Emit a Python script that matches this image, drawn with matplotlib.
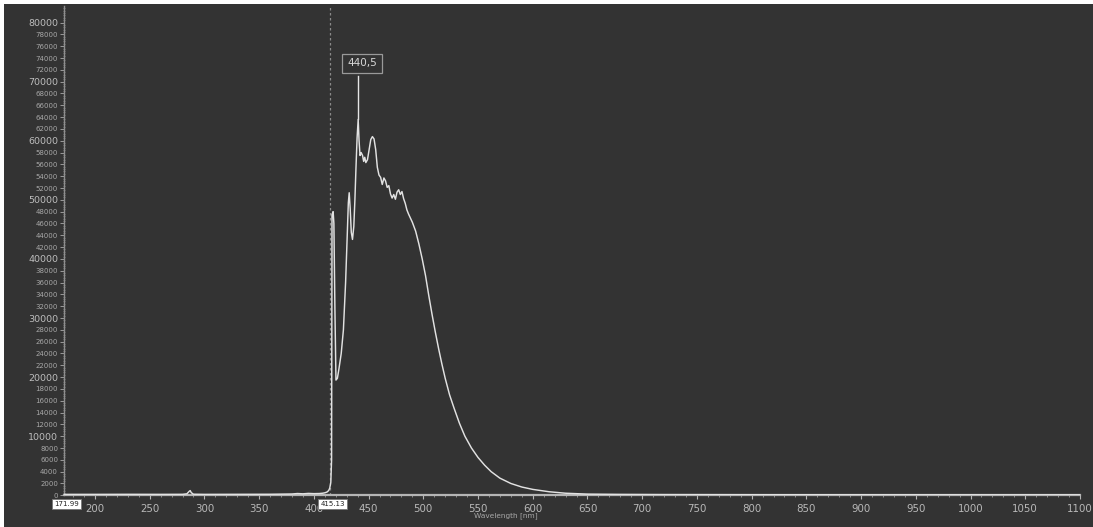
import numpy as np
import matplotlib
matplotlib.use("Agg")
import matplotlib.pyplot as plt
from matplotlib.patches import Rectangle

# Spectrum (wavelength in nm, counts)
wavelength = [172, 200, 230, 260, 280, 284, 286, 287, 288, 290, 300, 330, 360,
              380, 385, 390, 395, 400, 405, 408, 410, 412, 413.5, 414.5, 415.5,
              416.2, 416.6, 417.6, 418.3, 419.2, 420.2, 421.5, 423, 425, 427,
              429, 430.5, 431.5, 432.3, 433.2, 434.2, 435.3, 436.5, 437.5,
              438.5, 439.5, 440.5, 441.3, 442.2, 443.2, 444.5, 445.5, 446.5,
              447.5, 449, 450.5, 452, 453.5, 455, 456.5, 458, 459.5, 461,
              462.5, 464, 465.5, 467, 468.5, 470, 471.5, 473, 474.5, 476,
              477.5, 479, 480.5, 482, 483.5, 485, 486.5, 488, 490, 493, 496,
              499, 502, 505, 508, 511, 514, 517, 520, 524, 528, 533, 538, 544,
              550, 556, 562, 570, 580, 590, 600, 615, 630, 650, 680, 720, 800,
              900, 1000, 1100]
counts = [150, 150, 160, 150, 160, 250, 650, 800, 450, 180, 150, 160, 170,
          220, 300, 250, 320, 280, 300, 350, 420, 550, 800, 1200, 2200,
          6000, 47500, 48000, 46000, 32000, 19500, 19800, 21500, 24000, 28000,
          36000, 44000, 49500, 51200, 48500, 44500, 43300, 45500, 50000,
          55500, 60500, 63600, 60000, 57500, 58000, 57500, 56500, 57200,
          56300, 56800, 58500, 60200, 60700, 60300, 58500, 55500, 54200, 53800,
          52600, 53700, 53200, 52100, 52400, 51000, 50300, 50900, 50100, 51300,
          51700, 50900, 51400, 50200, 49400, 48300, 47600, 47000, 46200, 44700, 42500,
          40000, 37200, 33800, 30600, 27600, 24800, 22200, 19800, 17000, 14800, 12200, 10000, 8000,
          6400, 5100, 4000, 2900, 2000, 1400, 1000, 600, 350, 200, 150, 120, 100,
          90, 80, 80]

x_min = 171.99
x_max = 1100
cursor_x = 415.13
peak_x = 440.5
peak_y = 63600
peak_label = "440,5"

x_ticks = list(range(200, 1101, 50))
y_ticks = list(range(0, 80001, 2000))
y_labels = [str(v) for v in y_ticks]

bg = "#333333"

fig = plt.figure(figsize=(10.93, 5.27), dpi=100, facecolor="white")
# dark panel, screenshot has thin white edge top/left
fig.patches.append(Rectangle((4 / 1093, 0), 1, (527 - 4) / 527,
                             transform=fig.transFigure, facecolor=bg,
                             edgecolor="none", zorder=-5))

ax = fig.add_axes([64.3 / 1093, (527 - 495.3) / 527,
                   (1080 - 64.3) / 1093, (495.3 - 6) / 527])
ax.set_facecolor(bg)

ax.plot(wavelength, counts, color="#e2e2e2", lw=1.05, zorder=3)

# cursor line
ax.axvline(cursor_x, color="#8a8a8a", lw=0.9, ls=(0, (2, 2)), zorder=2)

# peak marker
ax.plot([peak_x, peak_x], [peak_y, 70900], color="#e6e6e6", lw=1.0, zorder=3)
ax.text(peak_x + 3.5, 73100, peak_label, ha="center", va="center",
        fontsize=7.5, color="#d8d8d8", zorder=4,
        bbox=dict(boxstyle="square,pad=0.45", facecolor=bg,
                  edgecolor="#9a9a9a", lw=0.9))

ax.set_xlim(x_min, x_max)
ax.set_ylim(0, 82800)

for s in ["top", "right"]:
    ax.spines[s].set_visible(False)
ax.spines["bottom"].set_color("#b5b5b5")
ax.spines["bottom"].set_linewidth(1.6)
ax.spines["left"].set_color("#8f8f8f")
ax.spines["left"].set_linewidth(1.0)

ax.set_xticks(x_ticks)
ax.set_xticks(np.arange(180, 1100, 10), minor=True)
ax.tick_params(axis="x", which="major", length=3, width=0.8, color="#b5b5b5",
               labelsize=7.4, labelcolor="#b8b8b8", pad=3)
ax.tick_params(axis="x", which="minor", length=1.5, width=0.6, color="#9a9a9a")

ax.set_yticks(y_ticks, y_labels)
ax.set_yticks(np.arange(0, 82800, 400), minor=True)
ax.tick_params(axis="y", which="major", length=3, width=0.7, color="#9a9a9a",
               labelcolor="#a8a8a8", labelsize=5.0, pad=1.5)
ax.tick_params(axis="y", which="minor", length=1.5, width=0.5,
               color="#8a8a8a", direction="inout")
for lab, v in zip(ax.get_yticklabels(), y_ticks):
    if v % 10000 == 0 and v > 0:
        lab.set_fontsize(6.8)
        lab.set_color("#bdbdbd")

ax.text(575, -0.041, "Wavelength [nm]", transform=ax.get_xaxis_transform(),
        ha="center", va="center", fontsize=5.3, color="#a8a8a8")

# cursor value boxes under the axis
for xv in [x_min, cursor_x]:
    ax.text(xv + 2, -0.018, f"{xv:.2f}", transform=ax.get_xaxis_transform(),
            ha="center", va="center", fontsize=5.0, color="#222222",
            zorder=5, clip_on=False,
            bbox=dict(boxstyle="square,pad=0.3", facecolor="white",
                      edgecolor="#777777", lw=0.6))

fig.savefig("out.png", dpi=100, facecolor=fig.get_facecolor())
